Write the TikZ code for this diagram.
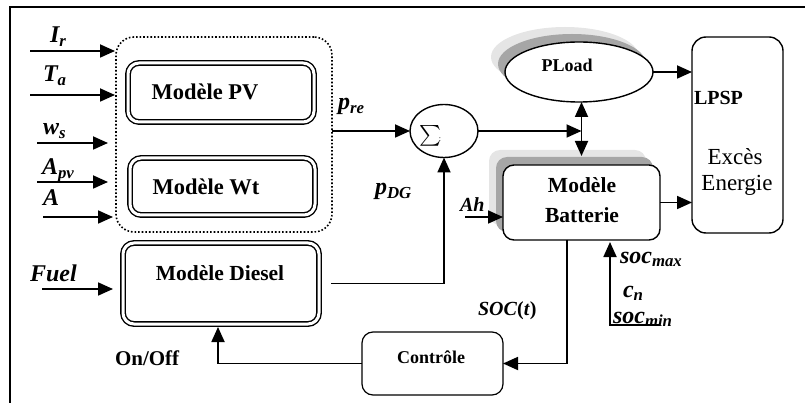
\documentclass[tikz,border=0pt]{standalone}
\usepackage{exscale}
\usepackage{fontspec}
\setmainfont{Liberation Serif}
\usetikzlibrary{arrows.meta,shapes.geometric,shadows}
\newcommand\mvar[2]{\textbf{\textit{#1}}\textsubscript{\textbf{\textit{#2}}}}
\begin{document}
\begin{tikzpicture}[x=1pt,y=-1pt,
  every node/.style={inner sep=0pt, outer sep=0pt},
  conn/.style={line width=1.8pt, -{Triangle[length=15pt,width=13pt]}},
  biconn/.style={line width=1.8pt, {Triangle[length=15pt,width=13pt]}-{Triangle[length=15pt,width=13pt]}},
  dblbox/.style={draw, double, line width=1.4pt, double distance=3pt, rounded corners=11pt},
  lbl/.style={font=\fontsize{24}{26}\selectfont\bfseries\itshape, anchor=base west},
  btxt/.style={font=\fontsize{21.5}{24}\selectfont\bfseries},
  shadowed/.style={general shadow={shadow xshift=-14pt,shadow yshift=15pt,fill=black!10,draw=none},
                   general shadow={shadow xshift=-7pt,shadow yshift=8pt,fill=black!35,draw=none}}
]
\useasboundingbox (0,0) rectangle (805,403);
\draw[line width=1.5pt] (10,403) -- (10,7) -- (805,7);

% group box
\node[draw, line width=1.6pt, dash pattern=on 1.6pt off 2pt, rounded corners=18pt,
      minimum width=216pt, minimum height=195pt] (grp) at (224,134.5) {};

% model boxes
\node[dblbox, minimum width=186pt, minimum height=59pt] (pv) at (221,92.5) {};
\node[btxt, font=\fontsize{22.5}{24}\selectfont\bfseries] (pvt) at (205,92) {Modèle PV};
\node[dblbox, minimum width=185pt, minimum height=57pt] (wt) at (222.5,186.5) {};
\node[btxt, font=\fontsize{22.5}{24}\selectfont\bfseries] (wtt) at (206,187) {Modèle Wt};
\node[dblbox, minimum width=196pt, minimum height=81pt] (dsl) at (221,283.5) {};
\node[btxt] (dslt) at (220,273) {Modèle Diesel};

% sum
\node[draw, ellipse, line width=1.4pt, minimum width=68pt, minimum height=53pt] (sum) at (444,131) {};
\node[font=\fontsize{22}{24}\selectfont] (sumt) at (430,136) {$\sum$};
\node[font=\fontsize{8}{9}\selectfont] (sumd) at (440,140) {:};

% load
\node[draw, ellipse, line width=1.4pt, fill=white, shadowed, minimum width=148pt, minimum height=60pt] (pl) at (579,72) {};
\node[font=\fontsize{18}{20}\selectfont\bfseries] (plt) at (567,65) {PLoad};

% battery
\node[draw, rounded corners=11pt, line width=1.4pt, fill=white, shadowed, minimum width=157pt, minimum height=75pt] (bat) at (581.5,202.5) {};
\node[btxt] (batt1) at (582,185) {Modèle};
\node[btxt] (batt2) at (582,215) {Batterie};

% LPSP
\node[draw, rounded corners=14pt, line width=1.4pt, minimum width=91pt, minimum height=196pt] (lpsp) at (737.5,135) {};
\node[font=\fontsize{20}{22}\selectfont\bfseries, anchor=west] (lp1) at (694,98) {LPSP};
\node[font=\fontsize{23}{26}\selectfont] (lp2) at (735,157) {Excès};
\node[font=\fontsize{23}{26}\selectfont] (lp3) at (737,185) {Energie};

% control
\node[draw, rounded corners=11pt, line width=1.2pt, minimum width=141pt, minimum height=63pt] (ctl) at (432.5,363.5) {};
\node[font=\fontsize{18}{20}\selectfont\bfseries] (ctlt) at (431,357) {Contrôle};

% input labels
\node[lbl] (lir) at (50,43) {\mvar{I}{r}};
\node[lbl] (lta) at (43,82) {\mvar{T}{a}};
\node[lbl] (lws) at (43,135) {\mvar{w}{s}};
\node[lbl] (lapv) at (42,175) {\mvar{A}{pv}};
\node[lbl] (la) at (43,206) {\textbf{\textit{A}}};
\node[lbl] (lfuel) at (30,281) {\textbf{\textit{Fuel}}};
\node[lbl] (lpre) at (338,110) {\mvar{p}{re}};
\node[lbl] (lpdg) at (375,195) {\mvar{p}{DG}};
\node[lbl, font=\fontsize{20}{22}\selectfont\bfseries\itshape] (lah) at (460,212) {Ah};
\node[lbl, font=\fontsize{20}{22}\selectfont\bfseries] (lsoc) at (478,315) {\textit{SOC}(\textit{t})};
\node[lbl] (lsmax) at (620,263) {\mvar{soc}{max}};
\node[lbl] (lcn) at (623,297) {\mvar{c}{n}};
\node[lbl] (lsmin) at (613,323) {\mvar{soc}{min}};
\node[font=\fontsize{21}{24}\selectfont\bfseries, anchor=base west] (lonoff) at (115,365) {On/Off};

% input arrows
\coordinate (ir0) at (30,51);  \coordinate (ir1) at (115,51);
\coordinate (ta0) at (30,95);  \coordinate (ta1) at (115,95);
\coordinate (ws0) at (37,143); \coordinate (ws1) at (108,143);
\coordinate (ap0) at (37,182); \coordinate (ap1) at (108,182);
\coordinate (a0) at (43,217);  \coordinate (a1) at (113,217);
\coordinate (fu0) at (42,289); \coordinate (fu1) at (113,289);
\draw[conn] (ir0) -- (ir1);
\draw[conn] (ta0) -- (ta1);
\draw[conn] (ws0) -- (ws1);
\draw[conn] (ap0) -- (ap1);
\draw[conn] (a0) -- (a1);
\draw[conn] (fu0) -- (fu1);

% sum connections
\draw[conn] (grp.east |- sum.west) -- (sum.west);
\draw[conn] ([xshift=12pt]dsl.east) -| (sum.south);
\coordinate (jn) at (bat.north |- sum.east);
\draw[conn] (sum.east) -- (jn);
\coordinate (bt) at ([yshift=9pt]bat.north);
\draw[biconn] (bat.north |- pl.south) -- (bt);

% to LPSP
\draw[conn] (pl.east) -- (pl.east -| lpsp.west);
\draw[conn] (bat.east) -- (bat.east -| lpsp.west);

% control loop
\draw[conn] ([xshift=-14.5pt]bat.south) |- (ctl.east);
\draw[conn] (ctl.west) -| ([xshift=-3pt,yshift=-3pt]dsl.south);

% Ah
\coordinate (ah0) at (465,217);
\draw[conn] (ah0) -- (ah0 -| bat.west);

% soc
\coordinate (s1) at (660,325); \coordinate (s2) at (610,325); \coordinate (s3) at (610,242);
\draw[conn] (s1) -- (s2) -- (s3);
\end{tikzpicture}
\end{document}
